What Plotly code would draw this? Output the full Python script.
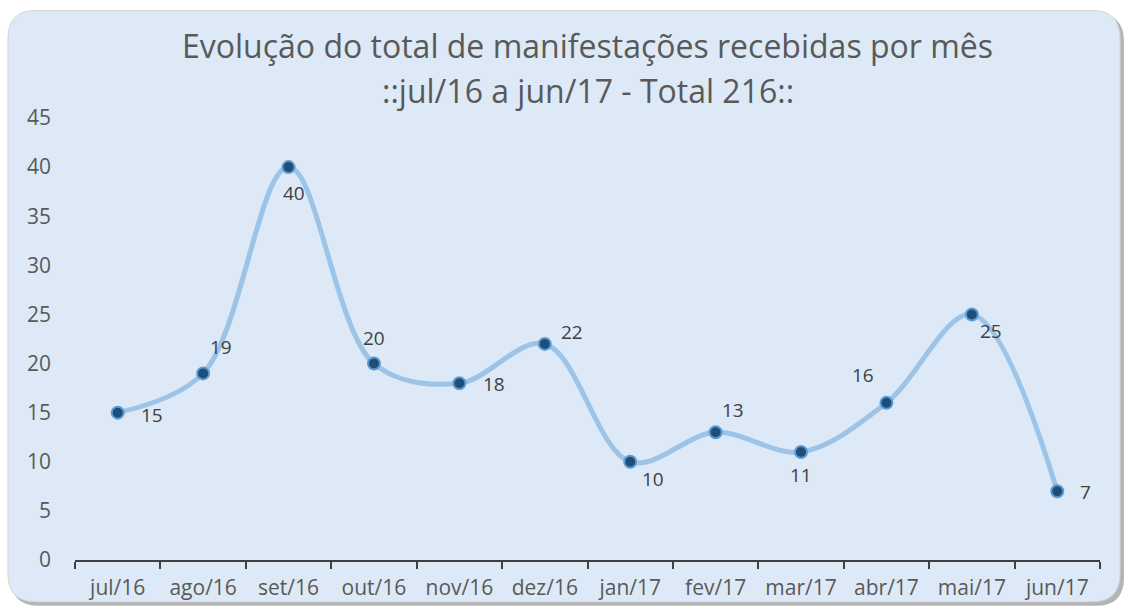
import plotly.graph_objects as go

months = ["jul/16", "ago/16", "set/16", "out/16", "nov/16", "dez/16",
          "jan/17", "fev/17", "mar/17", "abr/17", "mai/17", "jun/17"]
values = [15, 19, 40, 20, 18, 22, 10, 13, 11, 16, 25, 7]
title_line1 = "Evolução do total de manifestações recebidas por mês"
title_line2 = "::jul/16 a jun/17 - Total 216::"

# label offsets in pixels (styling only)
label_shift = [(34, -2), (18, 26), (5, -26), (0, 26), (35, -1), (27, 12),
               (23, -17), (17, 22), (0, -23), (-23, 28), (19, -17), (28, -1)]

W, H = 1129, 613
L, R, T, B = 75, 1100, 118, 562
FONT = "Open Sans"


def px(x):
    return (x - L) / (R - L)


def py(y):
    return (B - y) / (B - T)


def rounded(x0, y0, x1, y1, r):
    pts = [
        ("M", [(x0 + r, y0)]),
        ("L", [(x1 - r, y0)]),
        ("Q", [(x1, y0), (x1, y0 + r)]),
        ("L", [(x1, y1 - r)]),
        ("Q", [(x1, y1), (x1 - r, y1)]),
        ("L", [(x0 + r, y1)]),
        ("Q", [(x0, y1), (x0, y1 - r)]),
        ("L", [(x0, y0 + r)]),
        ("Q", [(x0, y0), (x0 + r, y0)]),
    ]
    s = ""
    for cmd, ps in pts:
        s += cmd + " " + " ".join(f"{px(a):.5f},{py(b):.5f}" for a, b in ps) + " "
    return s + "Z"


fig = go.Figure()
fig.add_trace(go.Scatter(
    x=months, y=values, mode="lines+markers",
    line=dict(shape="spline", smoothing=1, color="#9dc3e6", width=5),
    marker=dict(size=12, color="#1f4e79", line=dict(color="#5b9bd5", width=2)),
    hoverinfo="x+y", showlegend=False,
))

for m, v, (dx, dy) in zip(months, values, label_shift):
    fig.add_annotation(x=m, y=v, text=str(v), showarrow=False,
                       xshift=dx, yshift=dy,
                       font=dict(family=FONT, size=19, color="#404040"))

fig.add_annotation(xref="paper", yref="paper", x=0.5, y=py(45), yanchor="middle",
                   text=title_line1, showarrow=False,
                   font=dict(family=FONT, size=32, color="#595959"))
fig.add_annotation(xref="paper", yref="paper", x=0.5, y=py(90), yanchor="middle",
                   text=title_line2, showarrow=False,
                   font=dict(family=FONT, size=32, color="#595959"))

fig.update_layout(
    width=W, height=H,
    margin=dict(l=L, r=W - R, t=T, b=H - B, pad=0),
    paper_bgcolor="white", plot_bgcolor="rgba(0,0,0,0)",
    font=dict(family=FONT, size=19, color="#595959"),
    shapes=[
        dict(type="path", xref="paper", yref="paper", layer="below",
             path=rounded(11, 13, 1124, 608, 28),
             fillcolor="rgba(90,90,90,0.45)", line=dict(width=0)),
        dict(type="path", xref="paper", yref="paper", layer="below",
             path=rounded(8, 10, 1120, 604, 28),
             fillcolor="#dde9f6", line=dict(color="#d4d4d4", width=1)),
    ],
)
fig.update_xaxes(type="category", range=[-0.5, 11.5], tickson="boundaries",
                 ticks="outside", ticklen=7, tickwidth=2, tickcolor="#404040",
                 showline=True, linecolor="#404040", linewidth=2,
                 showgrid=False, zeroline=False, ticklabelstandoff=8,
                 tickfont=dict(family=FONT, size=21, color="#595959"))
fig.update_yaxes(range=[0, 45], dtick=5, tick0=0, showgrid=False, zeroline=False,
                 showline=False, ticks="", ticklabelstandoff=23,
                 tickfont=dict(family=FONT, size=21, color="#595959"))

fig.write_html("out.html", config={"displayModeBar": False},
               post_script="document.body.style.margin='0';")
